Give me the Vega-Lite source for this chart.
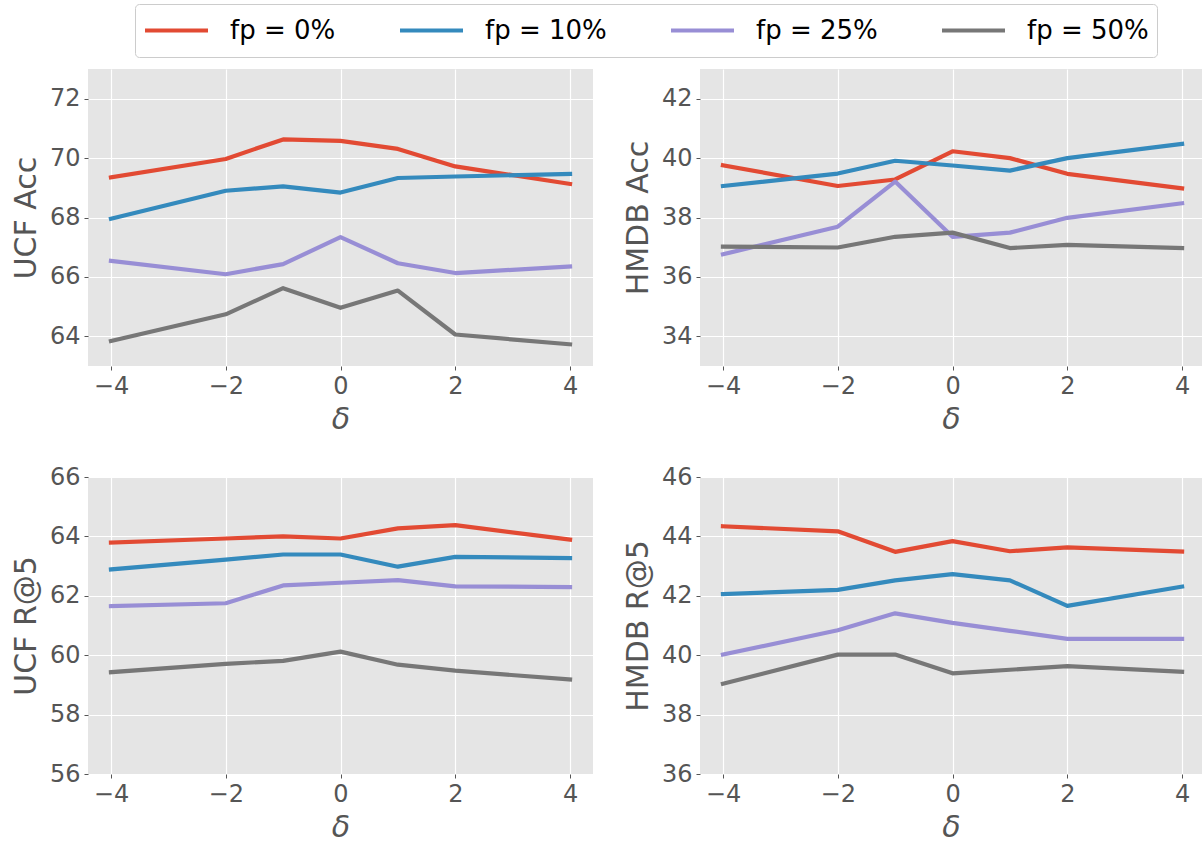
{
  "$schema": "https://vega.github.io/schema/vega-lite/v6.json",
  "padding": {"left": 11, "top": 3, "right": 0, "bottom": 0},
  "background": "white",
  "data": {"values": [
    {"panel": "UCF Acc", "fp": "fp = 0%", "delta": -4, "value": 69.35},
    {"panel": "UCF Acc", "fp": "fp = 0%", "delta": -2, "value": 69.97},
    {"panel": "UCF Acc", "fp": "fp = 0%", "delta": -1, "value": 70.63},
    {"panel": "UCF Acc", "fp": "fp = 0%", "delta": 0, "value": 70.58},
    {"panel": "UCF Acc", "fp": "fp = 0%", "delta": 1, "value": 70.31},
    {"panel": "UCF Acc", "fp": "fp = 0%", "delta": 2, "value": 69.72},
    {"panel": "UCF Acc", "fp": "fp = 0%", "delta": 4, "value": 69.13},
    {"panel": "UCF Acc", "fp": "fp = 10%", "delta": -4, "value": 67.96},
    {"panel": "UCF Acc", "fp": "fp = 10%", "delta": -2, "value": 68.9},
    {"panel": "UCF Acc", "fp": "fp = 10%", "delta": -1, "value": 69.05},
    {"panel": "UCF Acc", "fp": "fp = 10%", "delta": 0, "value": 68.84},
    {"panel": "UCF Acc", "fp": "fp = 10%", "delta": 1, "value": 69.33},
    {"panel": "UCF Acc", "fp": "fp = 10%", "delta": 2, "value": 69.38},
    {"panel": "UCF Acc", "fp": "fp = 10%", "delta": 4, "value": 69.47},
    {"panel": "UCF Acc", "fp": "fp = 25%", "delta": -4, "value": 66.54},
    {"panel": "UCF Acc", "fp": "fp = 25%", "delta": -2, "value": 66.09},
    {"panel": "UCF Acc", "fp": "fp = 25%", "delta": -1, "value": 66.43},
    {"panel": "UCF Acc", "fp": "fp = 25%", "delta": 0, "value": 67.34},
    {"panel": "UCF Acc", "fp": "fp = 25%", "delta": 1, "value": 66.46},
    {"panel": "UCF Acc", "fp": "fp = 25%", "delta": 2, "value": 66.13},
    {"panel": "UCF Acc", "fp": "fp = 25%", "delta": 4, "value": 66.35},
    {"panel": "UCF Acc", "fp": "fp = 50%", "delta": -4, "value": 63.84},
    {"panel": "UCF Acc", "fp": "fp = 50%", "delta": -2, "value": 64.74},
    {"panel": "UCF Acc", "fp": "fp = 50%", "delta": -1, "value": 65.62},
    {"panel": "UCF Acc", "fp": "fp = 50%", "delta": 0, "value": 64.96},
    {"panel": "UCF Acc", "fp": "fp = 50%", "delta": 1, "value": 65.54},
    {"panel": "UCF Acc", "fp": "fp = 50%", "delta": 2, "value": 64.06},
    {"panel": "UCF Acc", "fp": "fp = 50%", "delta": 4, "value": 63.73},
    {"panel": "HMDB Acc", "fp": "fp = 0%", "delta": -4, "value": 39.76},
    {"panel": "HMDB Acc", "fp": "fp = 0%", "delta": -2, "value": 39.06},
    {"panel": "HMDB Acc", "fp": "fp = 0%", "delta": -1, "value": 39.28},
    {"panel": "HMDB Acc", "fp": "fp = 0%", "delta": 0, "value": 40.23},
    {"panel": "HMDB Acc", "fp": "fp = 0%", "delta": 1, "value": 40.0},
    {"panel": "HMDB Acc", "fp": "fp = 0%", "delta": 2, "value": 39.47},
    {"panel": "HMDB Acc", "fp": "fp = 0%", "delta": 4, "value": 38.98},
    {"panel": "HMDB Acc", "fp": "fp = 10%", "delta": -4, "value": 39.06},
    {"panel": "HMDB Acc", "fp": "fp = 10%", "delta": -2, "value": 39.48},
    {"panel": "HMDB Acc", "fp": "fp = 10%", "delta": -1, "value": 39.91},
    {"panel": "HMDB Acc", "fp": "fp = 10%", "delta": 0, "value": 39.75},
    {"panel": "HMDB Acc", "fp": "fp = 10%", "delta": 1, "value": 39.58},
    {"panel": "HMDB Acc", "fp": "fp = 10%", "delta": 2, "value": 40.0},
    {"panel": "HMDB Acc", "fp": "fp = 10%", "delta": 4, "value": 40.48},
    {"panel": "HMDB Acc", "fp": "fp = 25%", "delta": -4, "value": 36.76},
    {"panel": "HMDB Acc", "fp": "fp = 25%", "delta": -2, "value": 37.69},
    {"panel": "HMDB Acc", "fp": "fp = 25%", "delta": -1, "value": 39.21},
    {"panel": "HMDB Acc", "fp": "fp = 25%", "delta": 0, "value": 37.35},
    {"panel": "HMDB Acc", "fp": "fp = 25%", "delta": 1, "value": 37.49},
    {"panel": "HMDB Acc", "fp": "fp = 25%", "delta": 2, "value": 37.99},
    {"panel": "HMDB Acc", "fp": "fp = 25%", "delta": 4, "value": 38.48},
    {"panel": "HMDB Acc", "fp": "fp = 50%", "delta": -4, "value": 37.02},
    {"panel": "HMDB Acc", "fp": "fp = 50%", "delta": -2, "value": 36.99},
    {"panel": "HMDB Acc", "fp": "fp = 50%", "delta": -1, "value": 37.35},
    {"panel": "HMDB Acc", "fp": "fp = 50%", "delta": 0, "value": 37.49},
    {"panel": "HMDB Acc", "fp": "fp = 50%", "delta": 1, "value": 36.97},
    {"panel": "HMDB Acc", "fp": "fp = 50%", "delta": 2, "value": 37.08},
    {"panel": "HMDB Acc", "fp": "fp = 50%", "delta": 4, "value": 36.97},
    {"panel": "UCF R@5", "fp": "fp = 0%", "delta": -4, "value": 63.79},
    {"panel": "UCF R@5", "fp": "fp = 0%", "delta": -2, "value": 63.93},
    {"panel": "UCF R@5", "fp": "fp = 0%", "delta": -1, "value": 64.0},
    {"panel": "UCF R@5", "fp": "fp = 0%", "delta": 0, "value": 63.93},
    {"panel": "UCF R@5", "fp": "fp = 0%", "delta": 1, "value": 64.27},
    {"panel": "UCF R@5", "fp": "fp = 0%", "delta": 2, "value": 64.38},
    {"panel": "UCF R@5", "fp": "fp = 0%", "delta": 4, "value": 63.89},
    {"panel": "UCF R@5", "fp": "fp = 10%", "delta": -4, "value": 62.89},
    {"panel": "UCF R@5", "fp": "fp = 10%", "delta": -2, "value": 63.22},
    {"panel": "UCF R@5", "fp": "fp = 10%", "delta": -1, "value": 63.39},
    {"panel": "UCF R@5", "fp": "fp = 10%", "delta": 0, "value": 63.39},
    {"panel": "UCF R@5", "fp": "fp = 10%", "delta": 1, "value": 62.98},
    {"panel": "UCF R@5", "fp": "fp = 10%", "delta": 2, "value": 63.31},
    {"panel": "UCF R@5", "fp": "fp = 10%", "delta": 4, "value": 63.27},
    {"panel": "UCF R@5", "fp": "fp = 25%", "delta": -4, "value": 61.65},
    {"panel": "UCF R@5", "fp": "fp = 25%", "delta": -2, "value": 61.75},
    {"panel": "UCF R@5", "fp": "fp = 25%", "delta": -1, "value": 62.35},
    {"panel": "UCF R@5", "fp": "fp = 25%", "delta": 0, "value": 62.44},
    {"panel": "UCF R@5", "fp": "fp = 25%", "delta": 1, "value": 62.53},
    {"panel": "UCF R@5", "fp": "fp = 25%", "delta": 2, "value": 62.32},
    {"panel": "UCF R@5", "fp": "fp = 25%", "delta": 4, "value": 62.29},
    {"panel": "UCF R@5", "fp": "fp = 50%", "delta": -4, "value": 59.43},
    {"panel": "UCF R@5", "fp": "fp = 50%", "delta": -2, "value": 59.71},
    {"panel": "UCF R@5", "fp": "fp = 50%", "delta": -1, "value": 59.81},
    {"panel": "UCF R@5", "fp": "fp = 50%", "delta": 0, "value": 60.12},
    {"panel": "UCF R@5", "fp": "fp = 50%", "delta": 1, "value": 59.68},
    {"panel": "UCF R@5", "fp": "fp = 50%", "delta": 2, "value": 59.48},
    {"panel": "UCF R@5", "fp": "fp = 50%", "delta": 4, "value": 59.18},
    {"panel": "HMDB R@5", "fp": "fp = 0%", "delta": -4, "value": 44.34},
    {"panel": "HMDB R@5", "fp": "fp = 0%", "delta": -2, "value": 44.17},
    {"panel": "HMDB R@5", "fp": "fp = 0%", "delta": -1, "value": 43.48},
    {"panel": "HMDB R@5", "fp": "fp = 0%", "delta": 0, "value": 43.84},
    {"panel": "HMDB R@5", "fp": "fp = 0%", "delta": 1, "value": 43.5},
    {"panel": "HMDB R@5", "fp": "fp = 0%", "delta": 2, "value": 43.63},
    {"panel": "HMDB R@5", "fp": "fp = 0%", "delta": 4, "value": 43.49},
    {"panel": "HMDB R@5", "fp": "fp = 10%", "delta": -4, "value": 42.06},
    {"panel": "HMDB R@5", "fp": "fp = 10%", "delta": -2, "value": 42.2},
    {"panel": "HMDB R@5", "fp": "fp = 10%", "delta": -1, "value": 42.52},
    {"panel": "HMDB R@5", "fp": "fp = 10%", "delta": 0, "value": 42.73},
    {"panel": "HMDB R@5", "fp": "fp = 10%", "delta": 1, "value": 42.52},
    {"panel": "HMDB R@5", "fp": "fp = 10%", "delta": 2, "value": 41.66},
    {"panel": "HMDB R@5", "fp": "fp = 10%", "delta": 4, "value": 42.31},
    {"panel": "HMDB R@5", "fp": "fp = 25%", "delta": -4, "value": 40.02},
    {"panel": "HMDB R@5", "fp": "fp = 25%", "delta": -2, "value": 40.84},
    {"panel": "HMDB R@5", "fp": "fp = 25%", "delta": -1, "value": 41.41},
    {"panel": "HMDB R@5", "fp": "fp = 25%", "delta": 0, "value": 41.09},
    {"panel": "HMDB R@5", "fp": "fp = 25%", "delta": 1, "value": 40.82},
    {"panel": "HMDB R@5", "fp": "fp = 25%", "delta": 2, "value": 40.55},
    {"panel": "HMDB R@5", "fp": "fp = 25%", "delta": 4, "value": 40.55},
    {"panel": "HMDB R@5", "fp": "fp = 50%", "delta": -4, "value": 39.04},
    {"panel": "HMDB R@5", "fp": "fp = 50%", "delta": -2, "value": 40.02},
    {"panel": "HMDB R@5", "fp": "fp = 50%", "delta": -1, "value": 40.02},
    {"panel": "HMDB R@5", "fp": "fp = 50%", "delta": 0, "value": 39.39},
    {"panel": "HMDB R@5", "fp": "fp = 50%", "delta": 1, "value": 39.51},
    {"panel": "HMDB R@5", "fp": "fp = 50%", "delta": 2, "value": 39.63},
    {"panel": "HMDB R@5", "fp": "fp = 50%", "delta": 4, "value": 39.44}
  ]},
  "columns": 2,
  "bounds": "flush",
  "align": "none",
  "spacing": {"row": 111, "column": 107},
  "concat": [
    {
      "width": 505, "height": 297,
      "transform": [{"filter": "datum.panel === 'UCF Acc'"}],
      "mark": {"type": "line", "strokeWidth": 4.2, "strokeCap": "square", "strokeJoin": "round", "clip": true},
      "encoding": {
        "x": {"field": "delta", "type": "quantitative", "scale": {"domain": [-4.4, 4.4], "nice": false, "zero": false}, "axis": {"values": [-4, -2, 0, 2, 4], "title": "δ"}},
        "y": {"field": "value", "type": "quantitative", "scale": {"domain": [63, 73], "nice": false, "zero": false}, "axis": {"values": [64, 66, 68, 70, 72], "title": "UCF Acc"}},
        "color": {"field": "fp", "type": "nominal", "scale": {"domain": ["fp = 0%", "fp = 10%", "fp = 25%", "fp = 50%"], "range": ["#E24A33", "#348ABD", "#988ED5", "#777777"]}, "legend": {"title": null}}
      }
    },
    {
      "width": 502, "height": 297,
      "transform": [{"filter": "datum.panel === 'HMDB Acc'"}],
      "mark": {"type": "line", "strokeWidth": 4.2, "strokeCap": "square", "strokeJoin": "round", "clip": true},
      "encoding": {
        "x": {"field": "delta", "type": "quantitative", "scale": {"domain": [-4.4, 4.347], "nice": false, "zero": false}, "axis": {"values": [-4, -2, 0, 2, 4], "title": "δ"}},
        "y": {"field": "value", "type": "quantitative", "scale": {"domain": [33, 43], "nice": false, "zero": false}, "axis": {"values": [34, 36, 38, 40, 42], "title": "HMDB Acc"}},
        "color": {"field": "fp", "type": "nominal", "legend": {"title": null}}
      }
    },
    {
      "width": 505, "height": 297,
      "transform": [{"filter": "datum.panel === 'UCF R@5'"}],
      "mark": {"type": "line", "strokeWidth": 4.2, "strokeCap": "square", "strokeJoin": "round", "clip": true},
      "encoding": {
        "x": {"field": "delta", "type": "quantitative", "scale": {"domain": [-4.4, 4.4], "nice": false, "zero": false}, "axis": {"values": [-4, -2, 0, 2, 4], "title": "δ"}},
        "y": {"field": "value", "type": "quantitative", "scale": {"domain": [56, 66], "nice": false, "zero": false}, "axis": {"values": [56, 58, 60, 62, 64, 66], "title": "UCF R@5"}},
        "color": {"field": "fp", "type": "nominal", "legend": {"title": null}}
      }
    },
    {
      "width": 502, "height": 297,
      "transform": [{"filter": "datum.panel === 'HMDB R@5'"}],
      "mark": {"type": "line", "strokeWidth": 4.2, "strokeCap": "square", "strokeJoin": "round", "clip": true},
      "encoding": {
        "x": {"field": "delta", "type": "quantitative", "scale": {"domain": [-4.4, 4.347], "nice": false, "zero": false}, "axis": {"values": [-4, -2, 0, 2, 4], "title": "δ"}},
        "y": {"field": "value", "type": "quantitative", "scale": {"domain": [36, 46], "nice": false, "zero": false}, "axis": {"values": [36, 38, 40, 42, 44, 46], "title": "HMDB R@5"}},
        "color": {"field": "fp", "type": "nominal", "legend": {"title": null}}
      }
    }
  ],
  "resolve": {"scale": {"color": "shared"}},
  "config": {
    "font": "DejaVu Sans",
    "view": {"fill": "#E5E5E5", "stroke": null},
    "axis": {
      "domain": false, "grid": true, "gridColor": "#ffffff", "gridWidth": 1.2, "gridOpacity": 1,
      "tickColor": "#555555", "tickSize": 4, "tickWidth": 1,
      "labelColor": "#555555", "labelFontSize": 24, "labelFont": "DejaVu Sans", "labelPadding": 4,
      "labelFlush": false, "labelOverlap": false,
      "titleColor": "#555555", "titleFontSize": 30, "titleFont": "DejaVu Sans", "titleFontWeight": "normal"
    },
    "axisX": {"titleFontStyle": "italic", "titlePadding": 6},
    "axisY": {"titlePadding": 8},
    "legend": {
      "orient": "none", "legendX": 47, "legendY": -65, "direction": "horizontal", "columns": 4,
      "symbolType": "stroke", "symbolSize": 3969, "symbolStrokeWidth": 4, "symbolOpacity": 1,
      "clipHeight": 37, "labelFontSize": 26, "labelFont": "DejaVu Sans", "labelColor": "#000000",
      "labelOffset": 20, "columnPadding": 62, "padding": 8,
      "strokeColor": "#cccccc", "fillColor": "#ffffff", "cornerRadius": 4
    }
  }
}
